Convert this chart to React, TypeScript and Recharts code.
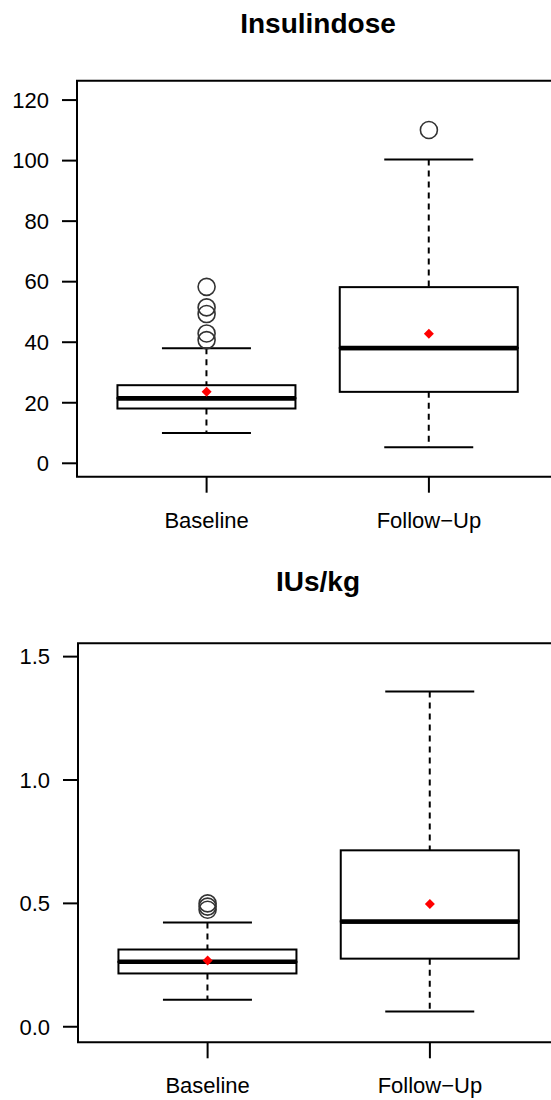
import React from 'react';
import { ComposedChart, Bar, Scatter, XAxis, YAxis, ReferenceArea } from 'recharts';

const FONT = '"Liberation Sans", Arial, Helvetica, sans-serif';

const groups = ['Baseline', 'Follow\u2212Up'];
const groupPos = [1, 2];
const xDomain = [0.417, 2.583];

// Insulindose
const doseTicks = [0, 20, 40, 60, 80, 100, 120];
const doseDomain = [-4.43, 126.4];
const doseMin = [10.0, 5.3];
const doseQ1 = [18.1, 23.6];
const doseMedian = [21.5, 38.1];
const doseQ3 = [25.8, 58.2];
const doseMax = [38.0, 100.4];
const doseMean = [23.6, 42.8];
const doseOutliersBaseline = [58.3, 51.5, 49.3, 42.9, 40.7];
const doseOutliersFollowUp = [110.1];

// IUs/kg
const iuTicks = [0, 0.5, 1.0, 1.5];
const iuDomain = [-0.063, 1.554];
const iuMin = [0.109, 0.062];
const iuQ1 = [0.216, 0.276];
const iuMedian = [0.263, 0.427];
const iuQ3 = [0.313, 0.715];
const iuMax = [0.423, 1.359];
const iuMean = [0.269, 0.497];
const iuOutliersBaseline = [0.5, 0.487, 0.474];
const iuOutliersFollowUp: number[] = [];

const buildBoxes = (min: number[], q1: number[], med: number[], q3: number[], max: number[]) =>
  groupPos.map((pos, i) => ({
    pos,
    base: min[i],
    lowerWhisker: q1[i] - min[i],
    lowerBox: med[i] - q1[i],
    upperBox: q3[i] - med[i],
    upperWhisker: max[i] - q3[i],
  }));

const buildPoints = (values: number[][]) =>
  values.flatMap((vals, i) => vals.map(value => ({ pos: groupPos[i], value })));

const Empty = () => <g />;

const whisker = (atTop: boolean) => (props: any) => {
  const { x, y, width, height } = props;
  const cx = x + width / 2;
  const capY = atTop ? y : y + height;
  return (
    <g>
      <line x1={cx} x2={cx} y1={y} y2={y + height} stroke="#000" strokeWidth={2} strokeDasharray="6 5" />
      <line x1={cx - width / 4} x2={cx + width / 4} y1={capY} y2={capY} stroke="#000" strokeWidth={2} />
    </g>
  );
};

const boxPart = (medianOnTop: boolean) => (props: any) => {
  const { x, y, width, height } = props;
  const my = medianOnTop ? y : y + height;
  return (
    <g>
      <rect x={x} y={y} width={width} height={height} fill="#fff" stroke="#000" strokeWidth={2} />
      <line x1={x} x2={x + width} y1={my} y2={my} stroke="#000" strokeWidth={4.5} />
    </g>
  );
};

const MeanDot = (props: any) => {
  const { cx, cy } = props;
  const r = 5;
  return <polygon points={`${cx},${cy - r} ${cx + r},${cy} ${cx},${cy + r} ${cx - r},${cy}`} fill="#ff0000" />;
};

const Outlier = (props: any) => {
  const { cx, cy } = props;
  return <circle cx={cx} cy={cy} r={8.5} fill="none" stroke="#333" strokeWidth={1.6} />;
};

type PanelProps = {
  top: number;
  height: number;
  marginTop: number;
  axisWidth: number;
  plotRight: number;
  xAxisHeight: number;
  tickMargin: number;
  ticks: number[];
  domain: number[];
  format: (v: number) => string;
  boxes: any[];
  means: any[];
  outliers: any[];
};

const Panel = (p: PanelProps) => (
  <div style={{ position: 'absolute', left: 0, top: p.top }}>
    <ComposedChart
      width={600}
      height={p.height}
      data={p.boxes}
      margin={{ top: p.marginTop, right: 600 - p.plotRight, bottom: 0, left: 0 }}
    >
      <XAxis
        dataKey="pos"
        type="number"
        domain={xDomain}
        allowDataOverflow
        ticks={groupPos}
        tickFormatter={(v: number) => groups[v - 1]}
        height={p.xAxisHeight}
        axisLine={false}
        tickLine={{ stroke: '#000', strokeWidth: 2 }}
        tickSize={16}
        tickMargin={p.tickMargin}
        tick={{ fill: '#000', fontSize: 22, fontFamily: FONT }}
        interval={0}
      />
      <YAxis
        type="number"
        domain={p.domain}
        allowDataOverflow
        ticks={p.ticks}
        tickFormatter={p.format}
        width={p.axisWidth}
        axisLine={false}
        tickLine={{ stroke: '#000', strokeWidth: 2 }}
        tickSize={15}
        tickMargin={13}
        tick={{ fill: '#000', fontSize: 22, fontFamily: FONT }}
        interval={0}
      />
      <ReferenceArea
        x1={xDomain[0]}
        x2={xDomain[1]}
        y1={p.domain[0]}
        y2={p.domain[1]}
        fill="none"
        stroke="#000"
        strokeWidth={2}
        ifOverflow="visible"
      />
      <Bar dataKey="base" stackId="b" barSize={178} shape={Empty} isAnimationActive={false} />
      <Bar dataKey="lowerWhisker" stackId="b" barSize={178} shape={whisker(false)} isAnimationActive={false} />
      <Bar dataKey="lowerBox" stackId="b" barSize={178} shape={boxPart(true)} isAnimationActive={false} />
      <Bar dataKey="upperBox" stackId="b" barSize={178} shape={boxPart(false)} isAnimationActive={false} />
      <Bar dataKey="upperWhisker" stackId="b" barSize={178} shape={whisker(true)} isAnimationActive={false} />
      <Scatter data={p.outliers} dataKey="value" shape={Outlier} isAnimationActive={false} />
      <Scatter data={p.means} dataKey="value" shape={MeanDot} isAnimationActive={false} />
    </ComposedChart>
  </div>
);

const titleStyle = (top: number): React.CSSProperties => ({
  position: 'absolute',
  left: 0,
  top,
  width: 636,
  textAlign: 'center',
  fontFamily: FONT,
  fontWeight: 700,
  fontSize: 28,
  lineHeight: '28px',
  color: '#000',
});

export default function App() {
  return (
    <div style={{ position: 'fixed', left: 0, top: 0, width: 551, height: 1100, overflow: 'hidden', background: '#fff' }}>
      <div style={titleStyle(9.8)}>Insulindose</div>
      <Panel
        top={0}
        height={550}
        marginTop={80.7}
        axisWidth={77}
        plotRight={558.5}
        xAxisHeight={73.3}
        tickMargin={20}
        ticks={doseTicks}
        domain={doseDomain}
        format={(v: number) => String(v)}
        boxes={buildBoxes(doseMin, doseQ1, doseMedian, doseQ3, doseMax)}
        means={buildPoints([[doseMean[0]], [doseMean[1]]])}
        outliers={buildPoints([doseOutliersBaseline, doseOutliersFollowUp])}
      />
      <div style={titleStyle(568.3)}>IUs/kg</div>
      <Panel
        top={560}
        height={540}
        marginTop={83.3}
        axisWidth={78}
        plotRight={559.5}
        xAxisHeight={57.7}
        tickMargin={19}
        ticks={iuTicks}
        domain={iuDomain}
        format={(v: number) => v.toFixed(1)}
        boxes={buildBoxes(iuMin, iuQ1, iuMedian, iuQ3, iuMax)}
        means={buildPoints([[iuMean[0]], [iuMean[1]]])}
        outliers={buildPoints([iuOutliersBaseline, iuOutliersFollowUp])}
      />
    </div>
  );
}
